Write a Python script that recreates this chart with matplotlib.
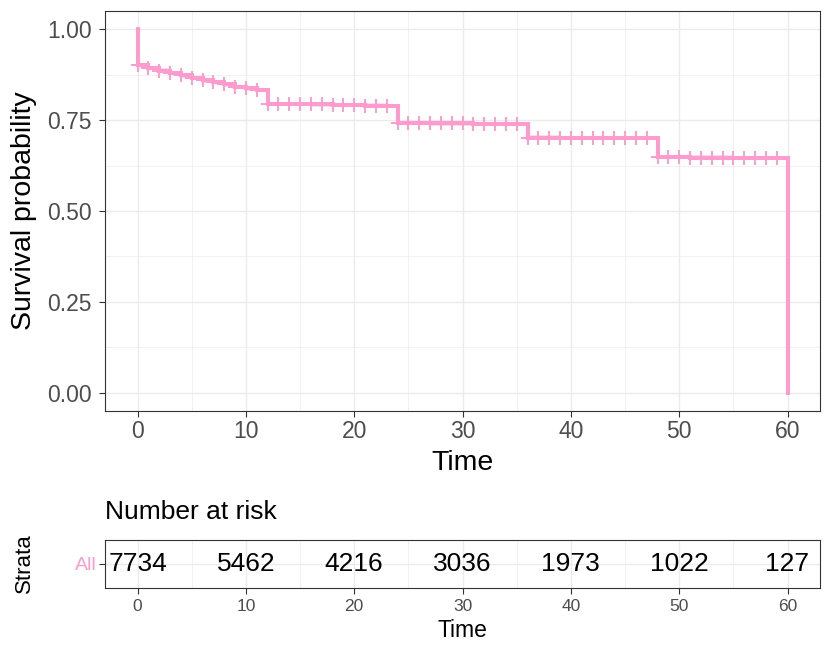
import numpy as np
import matplotlib
matplotlib.use("Agg")
import matplotlib.pyplot as plt

plt.rcParams['font.family'] = ['Liberation Sans', 'DejaVu Sans']

# survival curve: level reached at each month (step drops)
step_time = list(range(0, 61))
step_surv = [0.901, 0.893, 0.886, 0.880, 0.873, 0.866, 0.859, 0.854, 0.848, 0.841,
             0.837, 0.832,
             0.795, 0.795, 0.794, 0.794, 0.793, 0.793, 0.792, 0.791, 0.791, 0.790,
             0.790, 0.789,
             0.742, 0.742, 0.742, 0.741, 0.741, 0.741, 0.741, 0.740, 0.740, 0.740,
             0.740, 0.740,
             0.702, 0.702, 0.702, 0.701, 0.701, 0.701, 0.701, 0.700, 0.700, 0.700,
             0.700, 0.700,
             0.648, 0.648, 0.648, 0.647, 0.647, 0.647, 0.647, 0.646, 0.646, 0.646,
             0.646, 0.646,
             0.0]
censor_time = list(range(0, 60))

# number at risk
risk_time = [0, 10, 20, 30, 40, 50, 60]
risk_n = [7734, 5462, 4216, 3036, 1973, 1022, 127]
strata = 'All'

col = '#ff9ccd'
grid_col = '#ebebeb'

fig = plt.figure(figsize=(8.3, 6.55), dpi=100)
ax = fig.add_axes([105/830, 1-411/655, 715/830, 400/655])

x = np.concatenate([[0], step_time])
y = np.concatenate([[1.0], step_surv])
ax.fill_between(x, y - 0.006, y + 0.006, step='post', color=col, alpha=0.35, lw=0)
ax.step(x, y, where='post', color=col, lw=2.9, solid_joinstyle='miter')
cs = [step_surv[step_time.index(t)] for t in censor_time]
ax.plot(censor_time, cs, ls='none', marker='+', ms=10, mew=1.4, color=col)

ax.set_xlim(-3, 63)
ax.set_ylim(-0.05, 1.05)
ax.set_xticks([0, 10, 20, 30, 40, 50, 60])
ax.set_xticks([5, 15, 25, 35, 45, 55], minor=True)
ax.set_yticks([0, 0.25, 0.5, 0.75, 1.0])
ax.set_yticklabels(['0.00', '0.25', '0.50', '0.75', '1.00'])
ax.set_yticks([0.125, 0.375, 0.625, 0.875], minor=True)
ax.grid(which='major', color=grid_col, lw=1.0)
ax.grid(which='minor', color=grid_col, lw=0.5)
ax.set_axisbelow(True)
ax.tick_params(which='major', length=4.3, width=0.8, color='#333333',
               labelsize=16.5, labelcolor='#4d4d4d', pad=2)
ax.tick_params(axis='y', pad=5)
ax.tick_params(which='minor', length=0)
for s in ax.spines.values():
    s.set_color('#333333')
    s.set_linewidth(0.8)
ax.set_xlabel('Time', fontsize=20.5, labelpad=5.5)
fig.text(24/830, 1-211/655, 'Survival probability', rotation=90,
         ha='center', va='center', fontsize=20.5)

# risk table
tx = fig.add_axes([105/830, 1-588/655, 715/830, 48/655])
tx.set_xlim(-3, 63)
tx.set_ylim(0, 1)
for t, n in zip(risk_time, risk_n):
    tx.text(t, 0.5, str(n), ha='center', va='center', fontsize=19)
tx.set_xticks(risk_time)
tx.set_xticks([5, 15, 25, 35, 45, 55], minor=True)
tx.set_yticks([0.5])
tx.set_yticklabels([strata])
tx.grid(which='major', color=grid_col, lw=1.0)
tx.grid(which='minor', axis='x', color=grid_col, lw=0.5)
tx.set_axisbelow(True)
tx.tick_params(which='major', length=4.3, width=0.8, color='#333333',
               labelsize=12.5, labelcolor='#4d4d4d', pad=3.5)
tx.tick_params(axis='y', labelsize=14, labelcolor=col, pad=2)
tx.tick_params(which='minor', length=0)
for s in tx.spines.values():
    s.set_color('#333333')
    s.set_linewidth(0.8)
tx.set_xlabel('Time', fontsize=16.5, labelpad=3.5)
fig.text(105/830, 1-512/655, 'Number at risk', ha='left', va='center', fontsize=19)
fig.text(24/830, 1-563/655, 'Strata', rotation=90, ha='center', va='center', fontsize=16)

fig.savefig('out.png', dpi=100)
